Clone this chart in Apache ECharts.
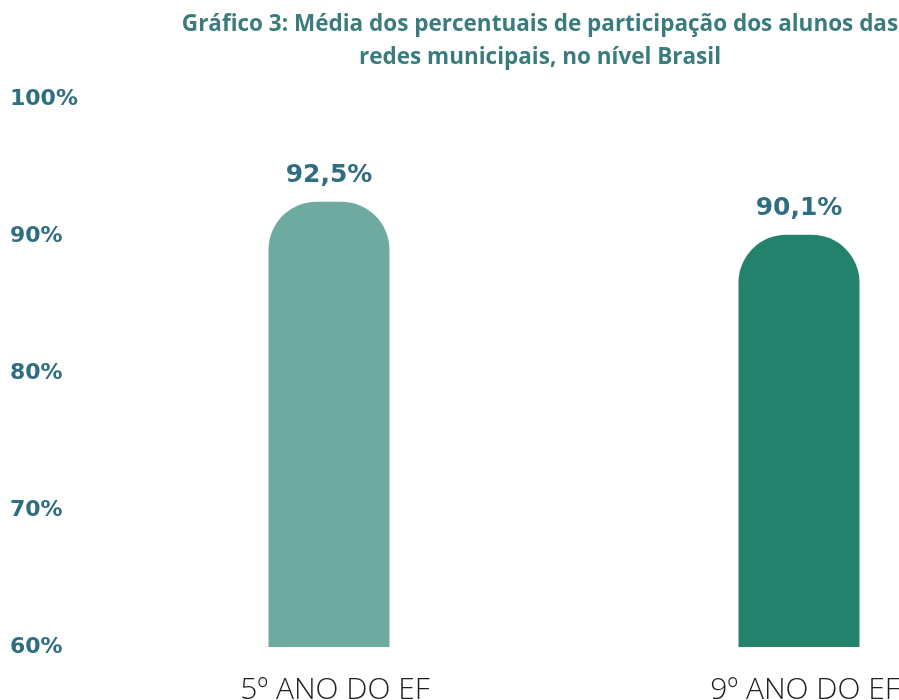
<!DOCTYPE html>
<html>
<head>
<meta charset="utf-8">
<script src="https://cdn.jsdelivr.net/npm/echarts@6/dist/echarts.min.js"></script>
<style>
  html, body { margin: 0; padding: 0; background: #ffffff; }
  #grafico3 { width: 899px; height: 700px; }
</style>
</head>
<body>
<div id="grafico3"></div>
<script>
// dados do gráfico
const categorias = ["5º ANO DO EF", "9º ANO DO EF"];
const participacao = [92.5, 90.1];
const coresBarras = ["#6eaa9f", "#22826b"];
const eixoMin = 60;
const eixoMax = 100;
const eixoIntervalo = 10;

const chart = echarts.init(document.getElementById("grafico3"));

const option = {
  backgroundColor: "#ffffff",
  title: {
    text: "Gráfico 3: Média dos percentuais de participação dos alunos das\nredes municipais, no nível Brasil",
    left: 535,
    top: 3,
    textAlign: "center",
    textStyle: {
      fontFamily: "Open Sans",
      fontWeight: "bold",
      fontSize: 22.5,
      lineHeight: 33,
      color: "#3b7b7d"
    }
  },
  grid: {
    left: 329,
    right: 100,
    top: 99,
    bottom: 53,
    outerBoundsMode: "none"
  },
  xAxis: {
    type: "category",
    data: categorias,
    boundaryGap: false,
    axisLine: { show: false },
    axisTick: { show: false },
    axisLabel: {
      margin: 28,
      padding: [0, 0, 0, 12],
      fontFamily: "Open Sans",
      fontWeight: 300,
      fontSize: 30,
      color: "#1e1e1e"
    }
  },
  yAxis: {
    type: "value",
    min: eixoMin,
    max: eixoMax,
    interval: eixoIntervalo,
    splitLine: { show: false },
    axisLine: { show: false },
    axisTick: { show: false },
    axisLabel: {
      align: "left",
      margin: 319,
      fontFamily: "DejaVu Sans",
      fontWeight: "bold",
      fontSize: 22,
      color: "#2e6e80",
      formatter: "{value}%"
    }
  },
  series: [
    {
      type: "bar",
      barWidth: 121,
      data: participacao.map((v, i) => ({
        value: v,
        itemStyle: { color: coresBarras[i] }
      })),
      itemStyle: { borderRadius: [48, 48, 0, 0] },
      label: {
        show: true,
        position: "top",
        distance: 14,
        fontFamily: "DejaVu Sans",
        fontWeight: "bold",
        fontSize: 25,
        color: "#2e6e80",
        formatter: p => p.value.toFixed(1).replace(".", ",") + "%"
      }
    }
  ]
};

chart.setOption(option);
window.addEventListener("resize", function () {
  chart.resize();
});
</script>
</body>
</html>
